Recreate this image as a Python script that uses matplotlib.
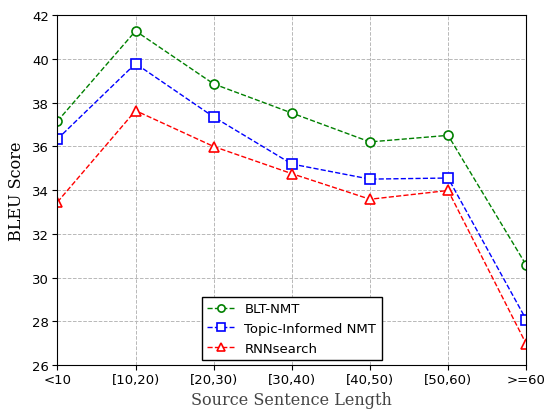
import matplotlib.pyplot as plt
import numpy as np

labels = ['<10', '[10,20)', '[20,30)', '[30,40)', '[40,50)', '[50,60)', '>=60']
blt = [37.15, 41.27, 38.85, 37.52, 36.2, 36.5, 30.57]
topic = [36.33, 39.78, 37.34, 35.19, 34.5, 34.55, 28.08]
rnn = [33.45, 37.63, 35.99, 34.75, 33.58, 33.98, 26.97]

x = np.arange(len(labels))

fig = plt.figure(figsize=(5.47, 4.10), dpi=100)
ax = fig.add_axes([0.105, 0.107, 0.857, 0.854])
style = dict(mfc='white', ms=6.5, mew=1.2, lw=1, clip_on=True)
ax.plot(x, blt, '--o', color='green', label='BLT-NMT', **style)
ax.plot(x, topic, '--s', color='blue', label='Topic-Informed NMT', **style)
ax.plot(x, rnn, '--^', color='red', label='RNNsearch', **style)

ax.set_xlim(0, 6)
ax.set_ylim(26, 42)
ax.set_xticks(x)
ax.set_xticklabels(labels)
ax.set_yticks(np.arange(26, 43, 2))
ax.tick_params(labelsize=9.5, length=3.5, pad=2.5)
ax.set_xlabel('Source Sentence Length', family='DejaVu Serif', fontsize=11.5,
              color='#444444', labelpad=3)
ax.set_ylabel('BLEU Score', family='DejaVu Serif', fontsize=11.5, labelpad=5)
ax.grid(True, linestyle='--', color='#b8b8b8', lw=0.7)
leg = ax.legend(loc='lower center', fontsize=9.5, fancybox=False, edgecolor='black',
                framealpha=1, markerscale=0.8, borderaxespad=0.4)
leg.get_frame().set_linewidth(1)
plt.savefig('out.png')
